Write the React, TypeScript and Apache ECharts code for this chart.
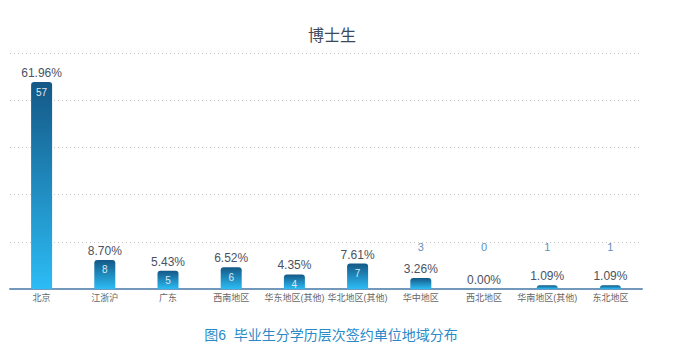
import React, { useEffect, useRef } from "react";
import * as echarts from "echarts";

const titleText = "博士生";
const captionText = "图6  毕业生分学历层次签约单位地域分布";
const categories = ["北京", "江浙沪", "广东", "西南地区", "华东地区(其他)", "华北地区(其他)", "华中地区", "西北地区", "华南地区(其他)", "东北地区"];
const counts = [57, 8, 5, 6, 4, 7, 3, 0, 1, 1];
const percents = ["61.96%", "8.70%", "5.43%", "6.52%", "4.35%", "7.61%", "3.26%", "0.00%", "1.09%", "1.09%"];
const insideThreshold = 4;
const smallLabelLevel = 11.6;

const FONT = "'Liberation Sans', 'Noto Sans CJK SC', sans-serif";

export default function App() {
  const ref = useRef<HTMLDivElement>(null);
  useEffect(() => {
    if (!ref.current) return;
    const chart = echarts.init(ref.current, null, { renderer: "svg" });
    const grad = new echarts.graphic.LinearGradient(0, 0, 0, 1, [
      { offset: 0, color: "#145886" },
      { offset: 1, color: "#2cbcf5" },
    ]);
    chart.setOption({
      animation: false,
      title: [
        {
          text: titleText,
          left: 327,
          textAlign: "center",
          top: 22,
          textStyle: { fontFamily: FONT, fontSize: 16, fontWeight: "normal", color: "#3d4a5c" },
        },
        {
          text: captionText,
          left: 326,
          textAlign: "center",
          top: 323,
          textStyle: { fontFamily: FONT, fontSize: 14, fontWeight: "normal", color: "#2a8ac8" },
        },
      ],
      grid: { left: 10, right: 43, top: 53, bottom: 61 },
      xAxis: {
        type: "category",
        data: categories,
        axisLine: { lineStyle: { color: "#7299bb", width: 2 } },
        axisTick: { show: false },
        axisLabel: { fontFamily: FONT, fontSize: 9, color: "#666", margin: 4, interval: 0 },
      },
      yAxis: {
        type: "value",
        min: 0,
        max: 65,
        interval: 13,
        axisLabel: { show: false },
        axisLine: { show: false },
        axisTick: { show: false },
        splitLine: { lineStyle: { type: [1, 3], color: "#c8c8c8", width: 1 } },
      },
      series: [
        {
          type: "bar",
          barWidth: 21,
          data: counts.map((v) => ({
            value: v,
            label: { show: v >= insideThreshold },
          })),
          itemStyle: { color: grad, borderRadius: [3, 3, 0, 0] },
          label: {
            show: true,
            position: "insideTop",
            distance: 5,
            fontFamily: FONT,
            fontSize: 10,
            color: "#dfe8f0",
          },
          z: 2,
        },
        {
          type: "bar",
          barWidth: 21,
          barGap: "-100%",
          data: counts,
          itemStyle: { color: "transparent" },
          label: {
            show: true,
            position: "top",
            distance: 3,
            fontFamily: FONT,
            fontSize: 12,
            color: "#4a5263",
            formatter: (p: any) => percents[p.dataIndex],
          },
          z: 3,
        },
        {
          type: "scatter",
          symbolSize: 0,
          data: counts
            .map((v, i) => (v < insideThreshold ? [i, smallLabelLevel, v] : null))
            .filter((d) => d !== null),
          label: {
            show: true,
            position: "inside",
            fontFamily: FONT,
            fontSize: 11,
            color: "#2f6fa6",
            formatter: (p: any) => String(p.value[2]),
          },
          z: 4,
        },
      ],
    });
    return () => chart.dispose();
  }, []);
  return (
    <div
      ref={ref}
      style={{ position: "fixed", left: 0, top: 0, width: 685, height: 350, background: "#fff" }}
    />
  );
}
